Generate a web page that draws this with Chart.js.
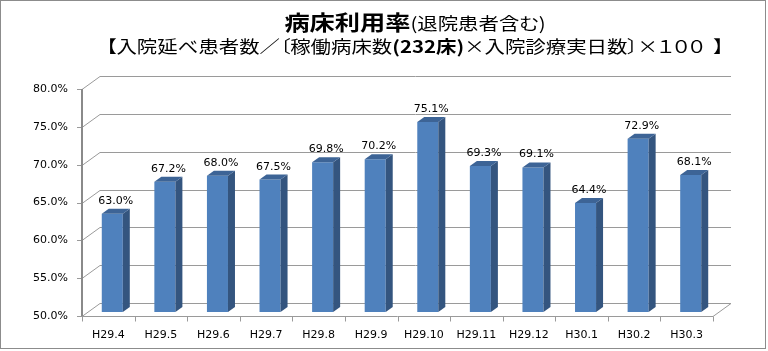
<!DOCTYPE html>
<html>
<head>
<meta charset="utf-8">
<script src="https://cdn.jsdelivr.net/npm/chart.js@4/dist/chart.umd.min.js"></script>
<style>
  html, body { margin: 0; padding: 0; background: #fff; }
  #wrap { position: relative; width: 768px; height: 351px; overflow: hidden; }
  #frame { position: absolute; left: 0; top: 0; width: 764px; height: 347px; border: 1px solid #8c8c8c; }
  canvas { position: absolute; left: 0; top: 0; }
  .ttl { position: absolute; left: 0; width: 830px; text-align: center; white-space: nowrap;
         font-family: "Noto Sans CJK JP", sans-serif; color: #000; transform-origin: 415px 50%;
         font-feature-settings: "palt"; }
  #t1 { top: 6px; transform: scaleX(1.2); }
  #t1 b { font-size: 21px; font-weight: 700; }
  #t1 span { font-size: 17px; }
  #t2 { top: 33px; font-size: 17px; font-weight: 400; transform: scaleX(1.2); }
  #t2 b { font-weight: 700; }
</style>
</head>
<body>
<div id="wrap">
  <canvas id="chart" width="768" height="351"></canvas>
  <div id="frame"></div>
  <div class="ttl" id="t1"><b>病床利用率</b><span>(退院患者含む)</span></div>
  <div class="ttl" id="t2">【入院延べ患者数／〔稼働病床数<b>(232床)</b>×入院診療実日数〕×１００&nbsp;&nbsp;】</div>
</div>
<script>
"use strict";

// data
var categories = ["H29.4", "H29.5", "H29.6", "H29.7", "H29.8", "H29.9",
                  "H29.10", "H29.11", "H29.12", "H30.1", "H30.2", "H30.3"];
var rates = [63.0, 67.2, 68.0, 67.5, 69.8, 70.2, 75.1, 69.3, 69.1, 64.4, 72.9, 68.1];
var yMin = 50;
var yMax = 80;
var yStep = 5;

// fake 3d depth
var WALL_DX = 18, WALL_DY = -13;
var SHIFT_X = 4, SHIFT_Y = -4;
var BAR_DX = 7, BAR_DY = -5;

var fontName = "'DejaVu Sans', sans-serif";

var excel3d = {
  id: "excel3d",
  beforeDatasetsDraw: function (chart) {
    var ctx = chart.ctx, a = chart.chartArea;
    var y = chart.scales.y;
    ctx.save();
    ctx.strokeStyle = "#9a9a9a";
    ctx.lineWidth = 1;
    ctx.beginPath();
    y.ticks.forEach(function (t) {
      var py = Math.round(y.getPixelForValue(t.value)) + 0.5;
      ctx.moveTo(a.left, py);
      ctx.lineTo(a.left + WALL_DX, py + WALL_DY);
      ctx.lineTo(a.right + WALL_DX, py + WALL_DY);
      // tick mark
      ctx.moveTo(a.left - 5, py);
      ctx.lineTo(a.left, py);
    });
    // floor front edge
    var fy = Math.round(a.bottom) + 0.5;
    ctx.moveTo(a.left, fy);
    ctx.lineTo(a.right, fy);
    ctx.lineTo(a.right + WALL_DX, fy + WALL_DY);
    // category ticks
    var n = categories.length;
    for (var i = 0; i <= n; i++) {
      var px = Math.round(a.left + (a.right - a.left) * i / n) + 0.5;
      ctx.moveTo(px, fy);
      ctx.lineTo(px, fy + 5);
    }
    ctx.stroke();
    // value axis
    ctx.strokeStyle = "#8a8a8a";
    ctx.lineWidth = 2;
    ctx.beginPath();
    ctx.moveTo(Math.round(a.left), a.top);
    ctx.lineTo(Math.round(a.left), a.bottom);
    ctx.stroke();
    ctx.restore();

    ctx.save();
    ctx.translate(SHIFT_X, SHIFT_Y);
  },
  afterDatasetsDraw: function (chart) {
    var ctx = chart.ctx;
    ctx.restore();
    var meta = chart.getDatasetMeta(0);
    var floor = chart.scales.y.getPixelForValue(yMin);
    ctx.save();
    meta.data.forEach(function (bar, i) {
      var p = bar.getProps(["x", "y", "width"], true);
      var l = p.x - p.width / 2 + SHIFT_X;
      var r = p.x + p.width / 2 + SHIFT_X;
      var t = p.y + SHIFT_Y;
      var b = floor + SHIFT_Y;
      // side
      ctx.fillStyle = "#34557f";
      ctx.beginPath();
      ctx.moveTo(r, t);
      ctx.lineTo(r + BAR_DX, t + BAR_DY);
      ctx.lineTo(r + BAR_DX, b + BAR_DY);
      ctx.lineTo(r, b);
      ctx.closePath();
      ctx.fill();
      // top
      ctx.fillStyle = "#3d6496";
      ctx.beginPath();
      ctx.moveTo(l, t);
      ctx.lineTo(l + BAR_DX, t + BAR_DY);
      ctx.lineTo(r + BAR_DX, t + BAR_DY);
      ctx.lineTo(r, t);
      ctx.closePath();
      ctx.fill();
      // value label
      ctx.fillStyle = "#000";
      ctx.font = "11px " + fontName;
      ctx.textAlign = "center";
      ctx.textBaseline = "alphabetic";
      ctx.fillText(rates[i].toFixed(1) + "%", (l + r) / 2 + BAR_DX / 2, t + BAR_DY - 5);
    });
    ctx.restore();
  }
};

new Chart(document.getElementById("chart"), {
  type: "bar",
  data: {
    labels: categories,
    datasets: [{
      data: rates,
      backgroundColor: "#4f81bd",
      borderWidth: 0,
      barPercentage: 0.8,
      categoryPercentage: 0.5
    }]
  },
  options: {
    responsive: false,
    animation: false,
    events: [],
    layout: { padding: { top: 89, right: 55, left: 0, bottom: 0 } },
    plugins: { legend: { display: false }, tooltip: { enabled: false } },
    scales: {
      y: {
        min: yMin,
        max: yMax,
        ticks: {
          stepSize: yStep,
          color: "#000",
          padding: 14,
          font: { family: fontName, size: 11 },
          callback: function (v) { return v.toFixed(1) + "%"; }
        },
        grid: { display: false, drawTicks: false },
        border: { display: false },
        afterFit: function (s) { s.width = 82; }
      },
      x: {
        ticks: {
          color: "#000",
          padding: 13,
          maxRotation: 0,
          autoSkip: false,
          font: { family: fontName, size: 11 }
        },
        grid: { display: false, drawTicks: false },
        border: { display: false },
        afterFit: function (s) { s.height = 35; }
      }
    }
  },
  plugins: [excel3d]
});
</script>
</body>
</html>
